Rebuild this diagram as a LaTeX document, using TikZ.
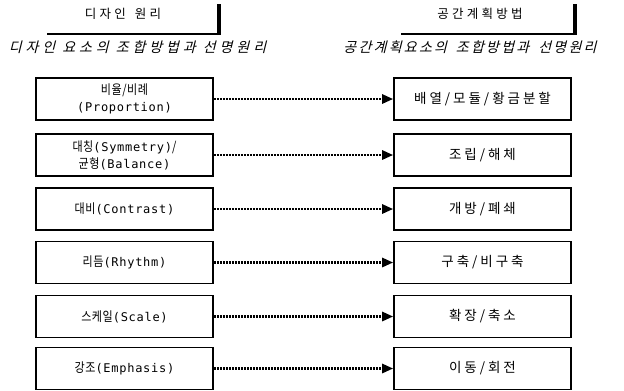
\documentclass[tikz,border=0pt]{standalone}
\usepackage{fontspec}
\usetikzlibrary{arrows.meta}
\newfontfamily\krfont[LetterSpace=4,FakeStretch=0.85]{Noto Sans CJK KR}
\newfontfamily\krwide[LetterSpace=22]{Noto Sans CJK KR}
\newfontfamily\ltfont[LetterSpace=6]{DejaVu Sans Mono}
\newfontfamily\krhead[LetterSpace=26]{Noto Sans CJK KR}
\newfontfamily\krital[FakeSlant=0.25,LetterSpace=16]{Noto Sans CJK KR}
\newfontfamily\kritalw[FakeSlant=0.25,LetterSpace=28]{Noto Sans CJK KR}
\newcommand\hk[1]{{\krfont\fontsize{13}{17}\selectfont #1}}
\newcommand\hw[1]{{\krwide\fontsize{13.5}{17}\selectfont #1}}
\newcommand\ltn[1]{{\ltfont\fontsize{12}{17}\selectfont #1}}
\tikzset{
  box/.style={draw=black, line width=1.6pt, minimum width=177pt, minimum height=42pt,
    inner sep=0pt, align=center, font=\fontsize{12}{17}\selectfont},
  link/.style={line width=2.6pt, dash pattern=on 1.8pt off 1.2pt,
    -{Triangle[length=11pt,width=9pt]}},
  bracket/.style={line width=2.4pt},
  bar/.style={line width=3.4pt},
  hd/.style={inner sep=0pt, font=\krhead\fontsize{12.5}{14}\selectfont},
  sub/.style={inner sep=0pt, font=\krital\fontsize{14}{16}\selectfont},
  subw/.style={inner sep=0pt, font=\kritalw\fontsize{14}{16}\selectfont}
}
\begin{document}
\begin{tikzpicture}[x=1pt,y=-1pt]
\useasboundingbox (0,0) rectangle (624,391);
% headers
\node[hd] (h1) at (123,14) {디자인\hspace{9pt}원리};
\node[hd] (h2) at (480,14) {공간계획방법};
\coordinate (b1a) at (47,34);
\coordinate (b1b) at (219,34);
\coordinate (b1c) at (219,4);
\coordinate (b2a) at (401,34);
\coordinate (b2b) at (575,34);
\coordinate (b2c) at (575,4);
\draw[bracket] (b1a) -- (b1b);
\draw[bar] ([yshift=-1.2pt]b1b) -- (b1c);
\draw[bracket] (b2a) -- (b2b);
\draw[bar] ([yshift=-1.2pt]b2b) -- (b2c);
\node[subw] (s1) at (137.5,47) {디자인\hspace{7pt}요소의\hspace{7pt}조합방법과\hspace{7pt}선명원리};
\node[sub] (s2) at (470,47) {공간계획요소의\hspace{9pt}조합방법과\hspace{9pt}선명원리};
% left boxes
\node[box] (l1) at (124.5,99) {\hk{비율/비례}\\\ltn{(Proportion)}};
\node[box] (l2) at (124.5,155) {\hk{대칭}\ltn{(Symmetry)}\hk{/}\\\hk{균형}\ltn{(Balance)}};
\node[box] (l3) at (124.5,209) {\hk{대비}\ltn{(Contrast)}};
\node[box] (l4) at (124.5,262.5) {\hk{리듬}\ltn{(Rhythm)}};
\node[box] (l5) at (124.5,316.5) {\hk{스케일}\ltn{(Scale)}};
\node[box] (l6) at (124.5,368.5) {\hk{강조}\ltn{(Emphasis)}};
% right boxes
\node[box] (r1) at (482.5,99) {\hw{배열/모듈/황금분할}};
\node[box] (r2) at (482.5,155) {\hw{조립/해체}};
\node[box] (r3) at (482.5,209) {\hw{개방/폐쇄}};
\node[box] (r4) at (482.5,262.5) {\hw{구축/비구축}};
\node[box] (r5) at (482.5,316.5) {\hw{확장/축소}};
\node[box] (r6) at (482.5,368.5) {\hw{이동/회전}};
% links
\foreach \i in {1,...,6}{
  \draw[link] (l\i.east) -- (r\i.west);
}
\end{tikzpicture}
\end{document}
